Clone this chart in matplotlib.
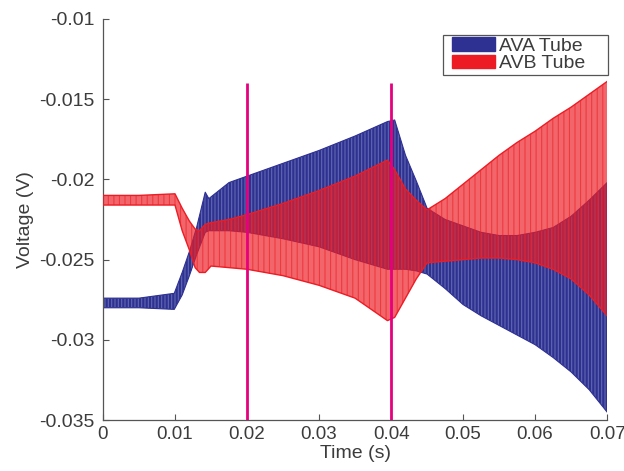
import numpy as np
import matplotlib.pyplot as plt
from matplotlib.patches import Patch, Rectangle

plt.rcParams['font.family'] = ['Liberation Sans', 'DejaVu Sans']
plt.rcParams['axes.unicode_minus'] = False
plt.rcParams['hatch.linewidth'] = 0.8

# AVA tube envelope (time, upper, lower)
ava_t = [0, 0.005, 0.0099, 0.011, 0.012, 0.013, 0.0142, 0.0147, 0.0175, 0.02,
         0.025, 0.03, 0.035, 0.0395, 0.0405, 0.042, 0.0435, 0.045, 0.0475, 0.05,
         0.0525, 0.055, 0.0575, 0.06, 0.0625, 0.065, 0.0675, 0.07]
ava_hi = [-0.0274, -0.0274, -0.0271, -0.0258, -0.0245, -0.0230, -0.0208, -0.0212, -0.0202, -0.0198,
          -0.0190, -0.0182, -0.0173, -0.0164, -0.0163, -0.0185, -0.0201, -0.0218, -0.0225, -0.0229,
          -0.0233, -0.0235, -0.0235, -0.0233, -0.0230, -0.0223, -0.0213, -0.0202]
ava_lo = [-0.0280, -0.0280, -0.0281, -0.0272, -0.0260, -0.0247, -0.0233, -0.0232, -0.0232, -0.0233,
          -0.0237, -0.0242, -0.0250, -0.0256, -0.0256, -0.0256, -0.0257, -0.0259, -0.0268, -0.0278,
          -0.0285, -0.0291, -0.0297, -0.0303, -0.0311, -0.0320, -0.0331, -0.0345]

# AVB tube envelope
avb_t = [0, 0.005, 0.0100, 0.011, 0.012, 0.0128, 0.0134, 0.0142, 0.015, 0.0175,
         0.02, 0.025, 0.03, 0.035, 0.0395, 0.0405, 0.042, 0.0435, 0.045, 0.0475,
         0.05, 0.0525, 0.055, 0.0575, 0.06, 0.0625, 0.065, 0.0675, 0.07]
avb_hi = [-0.0210, -0.0210, -0.0209, -0.0218, -0.0226, -0.0231, -0.0232, -0.0228, -0.0227, -0.0225,
          -0.0222, -0.0215, -0.0207, -0.0198, -0.0188, -0.0194, -0.0206, -0.0213, -0.0219, -0.0212,
          -0.0203, -0.0194, -0.0185, -0.0177, -0.0170, -0.0162, -0.0155, -0.0147, -0.0139]
avb_lo = [-0.0216, -0.0216, -0.0216, -0.0232, -0.0244, -0.0255, -0.0258, -0.0258, -0.0254, -0.0255,
          -0.0256, -0.0260, -0.0266, -0.0274, -0.0288, -0.0286, -0.0274, -0.0262, -0.0252, -0.0251,
          -0.0250, -0.0249, -0.0249, -0.0250, -0.0252, -0.0256, -0.0262, -0.0272, -0.0285]

marker_times = [0.02, 0.04]
xticks = [0, 0.01, 0.02, 0.03, 0.04, 0.05, 0.06, 0.07]
xticklabels = ['0', '0.01', '0.02', '0.03', '0.04', '0.05', '0.06', '0.07']
yticks = [-0.035, -0.03, -0.025, -0.02, -0.015, -0.01]
yticklabels = ['-0.035', '-0.03', '-0.025', '-0.02', '-0.015', '-0.01']

blue = '#2e3192'
red = '#ed1c24'
txt = '#3c3c3c'
fs = 14

fig = plt.figure(figsize=(6.24, 4.71), dpi=100)
ax = fig.add_axes([0.165, 0.108, 0.808, 0.852])

# AVA tube
ax.fill_between(ava_t, ava_lo, ava_hi, facecolor=blue, edgecolor='none', zorder=2)
ax.fill_between(ava_t, ava_lo, ava_hi, facecolor='none', edgecolor='#6267b0',
                hatch='|||||', linewidth=0, zorder=2)
ax.plot(ava_t, ava_hi, color=blue, lw=0.8, zorder=2)
ax.plot(ava_t, ava_lo, color=blue, lw=0.8, zorder=2)

# AVB tube (semi transparent over AVA)
ax.fill_between(avb_t, avb_lo, avb_hi, facecolor=red, edgecolor='none', alpha=0.68, zorder=3)
ax.fill_between(avb_t, avb_lo, avb_hi, facecolor='none', edgecolor=red,
                hatch='|||', linewidth=0, alpha=0.6, zorder=3)
ax.plot(avb_t, avb_hi, color=red, lw=1, zorder=3)
ax.plot(avb_t, avb_lo, color=red, lw=1, zorder=3)

ax.vlines(marker_times, -0.035, -0.014, color='#e6007e', lw=2, zorder=4)

ax.set_xlim(0, 0.07)
ax.set_ylim(-0.035, -0.01)
ax.set_xticks(xticks)
ax.set_xticklabels(xticklabels)
ax.set_yticks(yticks)
ax.set_yticklabels(yticklabels)
ax.tick_params(direction='in', length=4, width=0.8, colors='#555555',
               labelcolor=txt, labelsize=fs)
ax.tick_params(axis='y', pad=6)
ax.tick_params(axis='x', pad=4, labelsize=13.5)
for s in ['top', 'right']:
    ax.spines[s].set_visible(False)
for s in ['left', 'bottom']:
    ax.spines[s].set_color('#555555')
    ax.spines[s].set_linewidth(0.9)

ax.set_xlabel('Time (s)', fontsize=fs, color=txt, labelpad=2)
ax.set_ylabel('Voltage (V)', fontsize=fs, color=txt, labelpad=4)

# legend box drawn separately (MATLAB style wide frame)
ax.add_patch(Rectangle((0.6746, 0.861), 0.3274, 0.0993, transform=ax.transAxes,
                       facecolor='white', edgecolor='#555555', lw=0.9,
                       clip_on=False, zorder=5))
handles = [Patch(facecolor=blue, edgecolor=blue), Patch(facecolor=red, edgecolor=red)]
leg = ax.legend(handles, ['AVA Tube', 'AVB Tube'], loc='upper left',
                bbox_to_anchor=(0.6925, 0.955), fontsize=fs, frameon=False,
                handlelength=2.2, handleheight=0.7, handletextpad=0.2,
                borderpad=0.0, labelspacing=0.0, borderaxespad=0.0)
leg.set_zorder(6)
for t in leg.get_texts():
    t.set_color(txt)

fig.savefig('out.png', dpi=100)
